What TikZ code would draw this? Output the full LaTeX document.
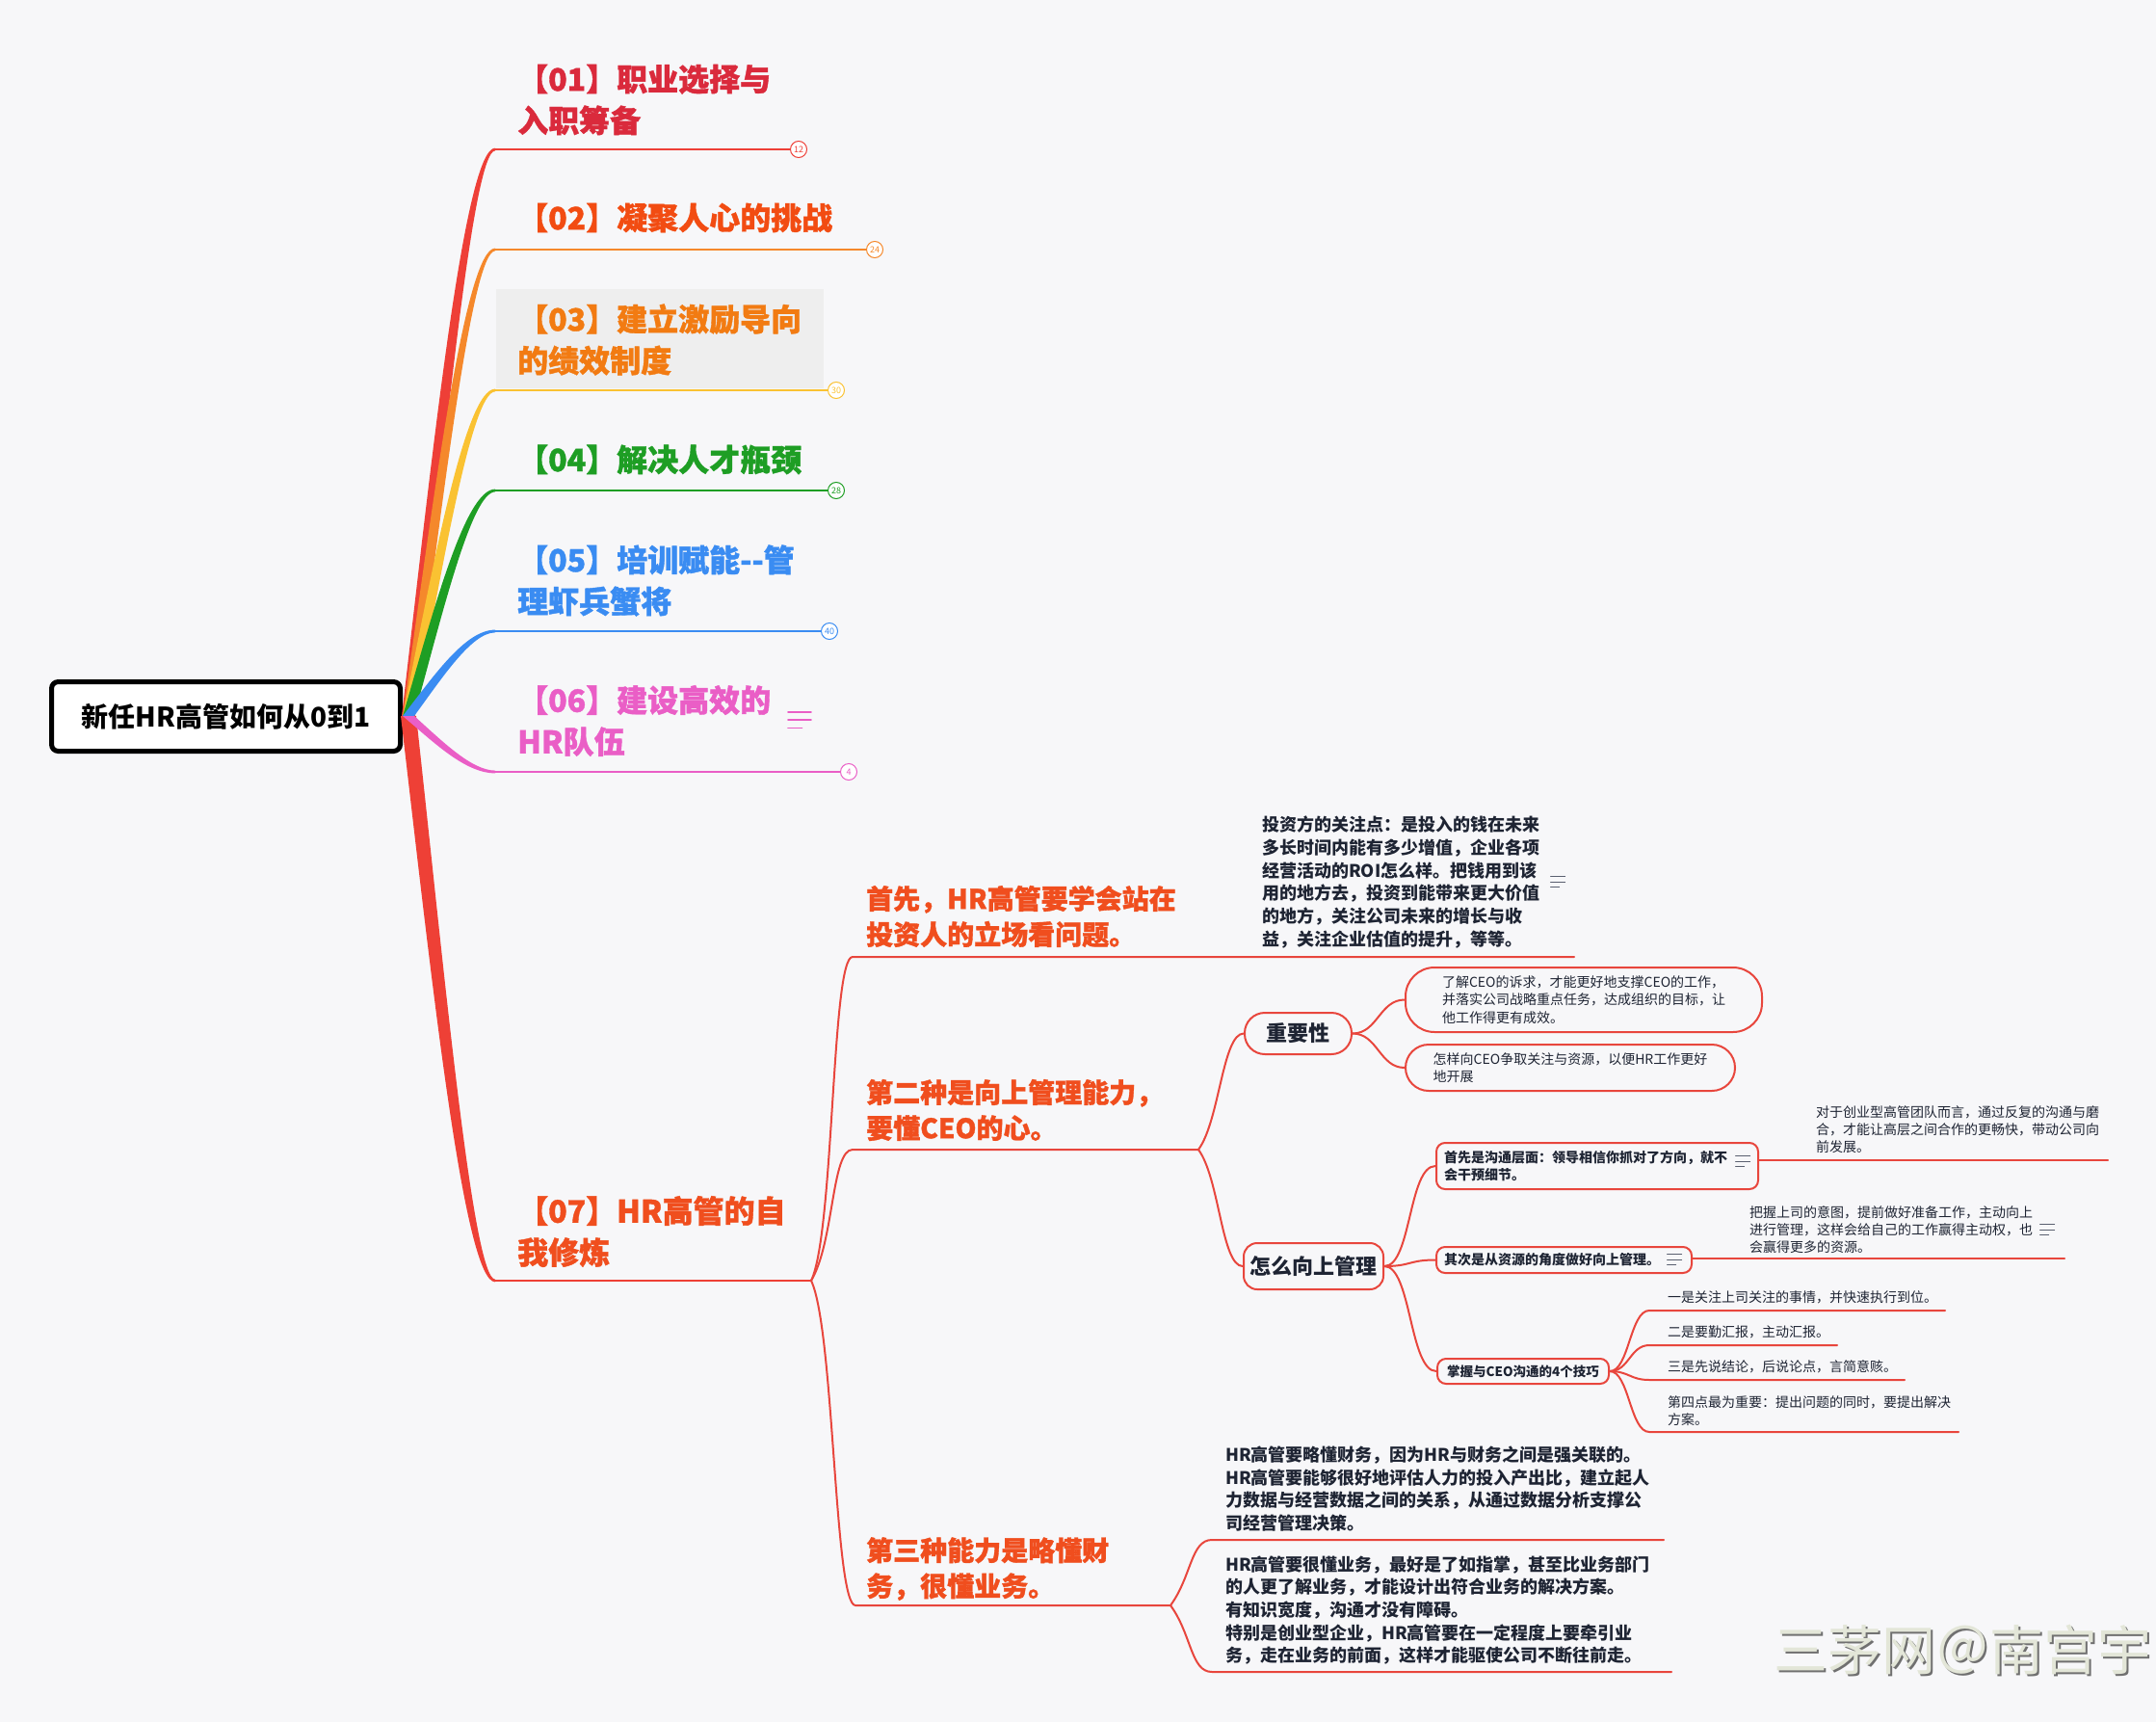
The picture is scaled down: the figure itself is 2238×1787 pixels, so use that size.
\documentclass[tikz,border=0pt]{standalone}
\usepackage{fontspec}
\setmainfont{Noto Sans CJK SC}
\newfontfamily\heavyfont{Noto Sans CJK SC}[BoldFeatures={FakeBold=1.2}]
\usetikzlibrary{calc}

\definecolor{paper}{HTML}{F7F7F9}
\definecolor{ink}{HTML}{1E2433}
\definecolor{linkred}{HTML}{E8463D}
\definecolor{deep}{HTML}{F04E1E}
\definecolor{hilite}{HTML}{EEEEEE}
\definecolor{iconink}{HTML}{5A6070}
\definecolor{markface}{HTML}{E3E6D8}
\definecolor{markedge}{HTML}{707070}
\definecolor{col1}{HTML}{EE3F37}
\definecolor{col2}{HTML}{F5882B}
\definecolor{col3}{HTML}{FAC232}
\definecolor{col4}{HTML}{1E9E24}
\definecolor{col5}{HTML}{3A8CF2}
\definecolor{col6}{HTML}{EA5EC6}
\definecolor{col7}{HTML}{EE4036}
\definecolor{txt1}{HTML}{DA2A3C}
\definecolor{txt2}{HTML}{F24C12}
\definecolor{txt3}{HTML}{F27B12}
\definecolor{txt4}{HTML}{1E9E24}
\definecolor{txt5}{HTML}{3A8CF2}
\definecolor{txt6}{HTML}{EA5EC6}
\definecolor{txt7}{HTML}{F04E1E}

\begin{document}
\begin{tikzpicture}[
		x=1pt, y=-1pt,
		root/.style	={ draw=black, line width=5pt, rounded corners=7pt, fill=white,
			minimum width=362pt, minimum height=72pt,
			font=\fontsize{28}{30}\selectfont\bfseries,
		},
		topic/.style	={ anchor=west, inner sep=0pt, align=left,
			font=\heavyfont\fontsize{32}{43}\selectfont\bfseries,
		},
		count/.style	={ circle, draw, fill=white, line width=1pt,
			minimum size=17pt, inner sep=0pt, font=\fontsize{9}{9}\selectfont,
		},
		subtopic/.style	={ anchor=west, inner sep=0pt, align=left, text=deep,
			font=\heavyfont\fontsize{28}{37}\selectfont\bfseries,
		},
		note/.style	={ anchor=west, inner sep=0pt, align=left, text=ink,
			font=\fontsize{18}{23.7}\selectfont\bfseries,
		},
		small/.style	={ anchor=west, inner sep=0pt, align=left, text=ink,
			font=\fontsize{14}{18.3}\selectfont,
		},
		pill/.style	={ draw=linkred, line width=2pt, fill=paper, text=ink, align=left,
			font=\fontsize{14}{18.3}\selectfont,
		},
		card/.style	={ draw=linkred, line width=2pt, fill=paper, text=ink, align=left,
			rounded corners=9pt, inner xsep=8pt, inner ysep=4pt,
			font=\fontsize{14}{17.5}\selectfont\bfseries,
		},
		wire/.style	={ linkred, line width=2pt, line cap=round },
		notes/.pic	={ \draw [line cap=round] (-1,-0.7) -- (1,-0.7) (-1,0) -- (1,0) (-1,0.7) -- (0.2,0.7); },
	]
	
	% canvas
	\fill [paper] (0,0) rectangle (2238,1787);
	\useasboundingbox (0,0) rectangle (2238,1787);
	
	% root
	\node [root] (root) at (234.5,743.5) {新任HR高管如何从0到1};
	\coordinate (hub) at (424,743);
	
	% draw limbs
	\foreach \n/\y/\w in {7/1329/8, 1/155/7, 2/259/6, 3/405/6, 4/509/6, 5/655/6, 6/801/6} {
		\pgfmathsetmacro\s{sign(\y-743)}
		\coordinate (u\n) at (514,\y);
		\fill [col\n] ($(hub)+(-\w,0)$) .. controls +(31,{(\y-743)*0.45}) and +({-28-0.6*\w},0) .. ($(u\n)+(0,1.4*\s)$)
			-- ($(u\n)+(0,-1.4*\s)$) .. controls +({-28+0.6*\w},0) and +(29,{(\y-743)*0.45}) .. ($(hub)+(\w,0)$) -- cycle;
	}
	
	% counters at the ends
	\foreach \n/\y/\e/\k in {1/155/829/12, 2/259/908/24, 3/405/868/30, 4/509/868/28, 5/655/861/40, 6/801/881/4} {
		\node [count, draw=col\n, text=col\n] (k\n) at (\e,\y) {\k};
		\draw [col\n, line width=2.6pt] (u\n) -- (k\n.west);
	}
	\coordinate (s7) at (842,1329);
	\draw [col7, line width=2.6pt] (u7) -- (s7);
	
	% topics
	\fill [hilite] (515,300) rectangle (855,403);
	\node [topic, text=txt1] (t1) at (537,103.5) {【01】职业选择与\\入职筹备};
	\node [topic, text=txt2] (t2) at (537,226) {【02】凝聚人心的挑战};
	\node [topic, text=txt3] (t3) at (537,352.5) {【03】建立激励导向\\的绩效制度};
	\node [topic, text=txt4] (t4) at (537,477) {【04】解决人才瓶颈};
	\node [topic, text=txt5] (t5) at (537,602.5) {【05】培训赋能-{}-管\\理虾兵蟹将};
	\node [topic, text=txt6] (t6) at (537,748) {【06】建设高效的\\HR队伍};
	\node [topic, text=txt7] (t7) at (537,1278) {【07】HR高管的自\\我修炼};
	\pic [col6, line width=1.8pt, scale=12] (i6) at (830,747) {notes};
	
	% second level of 07
	\coordinate (v1) at (885,993);  \coordinate (v1e) at (1634,993);
	\coordinate (v2) at (885,1193); \coordinate (v2e) at (1244,1193);
	\coordinate (v3) at (888,1666); \coordinate (v3e) at (1215,1666);
	\draw [wire] (s7) .. controls +(24,-50) and +(-22,0) .. (v1) -- (v1e);
	\draw [wire] (s7) .. controls +(24,-40) and +(-22,0) .. (v2) -- (v2e);
	\draw [wire] (s7) .. controls +(24,50) and +(-22,0) .. (v3) -- (v3e);
	\node [subtopic] (a1) at (899,951) {首先，HR高管要学会站在\\投资人的立场看问题。};
	\node [subtopic] (a2) at (899,1152) {第二种是向上管理能力，\\要懂CEO的心。};
	\node [subtopic] (a3) at (899,1628) {第三种能力是略懂财\\务，很懂业务。};
	\node [note] (n1) at (1310,915.5) {投资方的关注点：是投入的钱在未来\\多长时间内能有多少增值，企业各项\\经营活动的ROI怎么样。把钱用到该\\用的地方去，投资到能带来更大价值\\的地方，关注公司未来的增长与收\\益，关注企业估值的提升，等等。};
	\pic [iconink, line width=1pt, scale=7.5] (i1) at (1617,915) {notes};
	
	% upward management
	\node [pill, rounded corners=21pt, minimum width=111pt, minimum height=43pt,
		font=\fontsize{22}{24}\selectfont\bfseries, align=center] (imp) at (1347.5,1072.5) {重要性};
	\node [pill, rounded corners=14pt, minimum width=145pt, minimum height=48pt,
		font=\fontsize{22}{24}\selectfont\bfseries, align=center] (how) at (1363.5,1314) {怎么向上管理};
	\draw [wire] (v2e) .. controls +(22,-30) and +(-22,0) .. (imp.west);
	\draw [wire] (v2e) .. controls +(22,30) and +(-22,0) .. (how.west);
	
	\node [pill, rounded corners=30pt, minimum width=370pt, minimum height=67pt] (p1) at (1644,1037.5)
		{了解CEO的诉求，才能更好地支撑CEO的工作，\\并落实公司战略重点任务，达成组织的目标，让\\他工作得更有成效。};
	\node [pill, rounded corners=24pt, minimum width=342pt, minimum height=48pt] (p2) at (1630,1108)
		{怎样向CEO争取关注与资源，以便HR工作更好\\地开展};
	\draw [wire] (imp.east) .. controls +(26,0) and +(-26,0) .. (p1.west);
	\draw [wire] (imp.east) .. controls +(26,0) and +(-26,0) .. (p2.west);
	
	\node [card, text width=318pt, minimum height=48pt] (A) at (1658,1210)
		{首先是沟通层面：领导相信你抓对了方向，就不\\会干预细节。};
	\node [card, text width=249pt, minimum height=27pt] (B) at (1623.5,1307.5)
		{其次是从资源的角度做好向上管理。};
	\node [card, align=center, minimum width=178pt, minimum height=26pt, inner sep=0pt,
		font=\fontsize{13.5}{15}\selectfont\bfseries] (C) at (1581,1423) {掌握与CEO沟通的4个技巧};
	\pic [iconink, line width=1pt, scale=7.5] (iA) at (1809,1205) {notes};
	\pic [iconink, line width=1pt, scale=7.5] (iB) at (1738,1307) {notes};
	\draw [wire] (how.east) .. controls +(28,0) and +(-28,0) .. (A.west);
	\draw [wire] (how.east) .. controls +(28,0) and +(-28,0) .. (B.west);
	\draw [wire] (how.east) .. controls +(28,0) and +(-28,0) .. (C.west);
	
	% notes beside the cards
	\coordinate (ae) at (2188,1204);
	\coordinate (be) at (2143,1306);
	\draw [wire] (A.east |- ae) -- (ae);
	\draw [wire] (B.east |- be) -- (be);
	\node [small] (n2) at (1885,1172) {对于创业型高管团队而言，通过反复的沟通与磨\\合，才能让高层之间合作的更畅快，带动公司向\\前发展。};
	\node [small] (n3) at (1816,1276) {把握上司的意图，提前做好准备工作，主动向上\\进行管理，这样会给自己的工作赢得主动权，也\\会赢得更多的资源。};
	\pic [iconink, line width=1pt, scale=7.5] (i3) at (2125,1276) {notes};
	
	% four skills
	\foreach \n/\y/\e in {1/1360/2019, 2/1396/1907, 3/1432/1977, 4/1486/2033} {
		\coordinate (w\n) at (1712,\y);
		\coordinate (w\n e) at (\e,\y);
		\draw [wire] (C.east) .. controls +(20,0) and +(-20,0) .. (w\n) -- (w\n e);
	}
	\node [small] (c1) at (1731,1346) {一是关注上司关注的事情，并快速执行到位。};
	\node [small] (c2) at (1731,1382) {二是要勤汇报，主动汇报。};
	\node [small] (c3) at (1731,1418) {三是先说结论，后说论点，言简意赅。};
	\node [small] (c4) at (1731,1464) {第四点最为重要：提出问题的同时，要提出解决\\方案。};
	
	% finance and business
	\coordinate (x1) at (1258,1598); \coordinate (x1e) at (1727,1598);
	\coordinate (x2) at (1258,1735); \coordinate (x2e) at (1735,1735);
	\draw [wire] (v3e) .. controls +(22,-30) and +(-22,0) .. (x1) -- (x1e);
	\draw [wire] (v3e) .. controls +(22,30) and +(-22,0) .. (x2) -- (x2e);
	\node [note] (n4) at (1272,1545) {HR高管要略懂财务，因为HR与财务之间是强关联的。\\HR高管要能够很好地评估人力的投入产出比，建立起人\\力数据与经营数据之间的关系，从通过数据分析支撑公\\司经营管理决策。};
	\node [note] (n5) at (1272,1671) {HR高管要很懂业务，最好是了如指掌，甚至比业务部门\\的人更了解业务，才能设计出符合业务的解决方案。\\有知识宽度，沟通才没有障碍。\\特别是创业型企业，HR高管要在一定程度上要牵引业\\务，走在业务的前面，这样才能驱使公司不断往前走。};
	
	% watermark
	\node [anchor=west, inner sep=0pt, text=markedge, font=\fontsize{56}{56}\selectfont] (wm0) at (1843.5,1714.5) {三茅网＠南宫宇};
	\node [anchor=west, inner sep=0pt, text=markface, font=\fontsize{56}{56}\selectfont] (wm) at (1841,1712) {三茅网＠南宫宇};
	
\end{tikzpicture}
\end{document}
